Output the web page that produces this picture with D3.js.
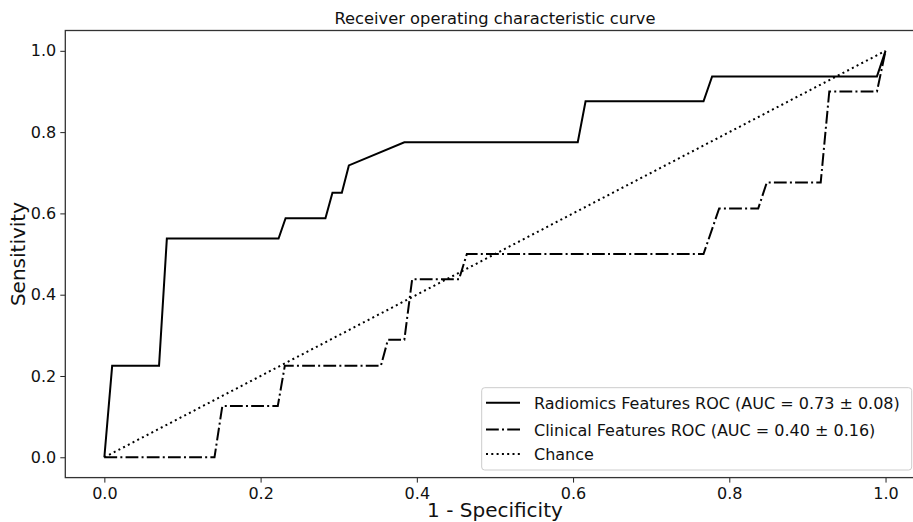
<!DOCTYPE html>
<html>
<head>
<meta charset="utf-8">
<script src="https://cdn.jsdelivr.net/npm/d3@7"></script>
<style>
  body { margin: 0; background: #fff; }
  svg { display: block; font-family: "DejaVu Sans", sans-serif; }
</style>
</head>
<body>
<div id="chart"></div>
<script>
// ROC curves
var radiomicsFpr = [0, 0.010, 0.070, 0.080, 0.223, 0.232, 0.283, 0.292, 0.304, 0.313, 0.384, 0.606, 0.616, 0.767, 0.778, 0.989, 1.0];
var radiomicsTpr = [0, 0.225, 0.225, 0.538, 0.538, 0.588, 0.588, 0.651, 0.651, 0.718, 0.775, 0.775, 0.876, 0.876, 0.937, 0.937, 1.0];

var clinicalFpr = [0, 0.141, 0.151, 0.222, 0.231, 0.354, 0.363, 0.384, 0.394, 0.454, 0.464, 0.767, 0.787, 0.837, 0.848, 0.917, 0.928, 0.989, 1.0];
var clinicalTpr = [0, 0, 0.126, 0.126, 0.225, 0.225, 0.289, 0.289, 0.438, 0.438, 0.500, 0.500, 0.612, 0.612, 0.676, 0.676, 0.900, 0.900, 1.0];

var chanceFpr = [0, 1];
var chanceTpr = [0, 1];

var tickValues = [0, 0.2, 0.4, 0.6, 0.8, 1.0];
var legendLabels = [
  "Radiomics Features ROC (AUC = 0.73 \u00b1 0.08)",
  "Clinical Features ROC (AUC = 0.40 \u00b1 0.16)",
  "Chance"
];

var svgWidth = 913;
var svgHeight = 522;

var margin = { top: 30.5, right: -11.6, bottom: 44.4, left: 65.3 };
var width = svgWidth - margin.left - margin.right;
var height = svgHeight - margin.top - margin.bottom;

var svg = d3.select("#chart")
  .append("svg")
  .attr("width", svgWidth)
  .attr("height", svgHeight);

var chartGroup = svg.append("g")
  .attr("transform", `translate(${margin.left}, ${margin.top})`);

var xScale = d3.scaleLinear().domain([-0.05, 1.05]).range([0, width]);
var yScale = d3.scaleLinear().domain([-0.05, 1.05]).range([height, 0]);

// axes
var bottomAxis = d3.axisBottom(xScale).tickValues(tickValues).tickFormat(d3.format(".1f")).tickSize(5).tickPadding(5);
var leftAxis = d3.axisLeft(yScale).tickValues(tickValues).tickFormat(d3.format(".1f")).tickSize(5).tickPadding(4);

var xAxis = chartGroup.append("g")
  .attr("transform", `translate(0, ${height})`)
  .call(bottomAxis);
var yAxis = chartGroup.append("g").call(leftAxis);

[xAxis, yAxis].forEach(function(ax) {
  ax.select(".domain").remove();
  ax.selectAll("line").attr("stroke", "#222").attr("stroke-width", 1);
  ax.selectAll("text").attr("font-size", "16px").attr("fill", "#111")
    .attr("font-family", "DejaVu Sans, sans-serif");
});

// frame
chartGroup.append("rect")
  .attr("x", 0).attr("y", 0)
  .attr("width", width).attr("height", height)
  .attr("fill", "none")
  .attr("stroke", "#333")
  .attr("stroke-width", 1.3);

// curves
function pts(xs, ys) {
  return xs.map(function(x, i) { return [x, ys[i]]; });
}
var line = d3.line().x(d => xScale(d[0])).y(d => yScale(d[1]));

var series = [
  { data: pts(radiomicsFpr, radiomicsTpr), dash: null },
  { data: pts(clinicalFpr, clinicalTpr), dash: "12.8,3.2,2,3.2" },
  { data: pts(chanceFpr, chanceTpr), dash: "2,3.3" }
];

chartGroup.selectAll("path.curve")
  .data(series)
  .enter()
  .append("path")
  .attr("class", "curve")
  .attr("d", d => line(d.data))
  .attr("fill", "none")
  .attr("stroke", "#000")
  .attr("stroke-width", 2)
  .attr("stroke-dasharray", d => d.dash);

// title and labels
svg.append("text")
  .attr("x", margin.left + width / 2)
  .attr("y", 24)
  .attr("text-anchor", "middle")
  .attr("font-size", "16.3px")
  .attr("fill", "#111")
  .text("Receiver operating characteristic curve");

svg.append("text")
  .attr("x", margin.left + width / 2)
  .attr("y", 517)
  .attr("text-anchor", "middle")
  .attr("font-size", "20px")
  .attr("fill", "#111")
  .text("1 - Specificity");

svg.append("text")
  .attr("transform", "rotate(-90)")
  .attr("x", -(margin.top + height / 2))
  .attr("y", 25)
  .attr("text-anchor", "middle")
  .attr("font-size", "20px")
  .attr("fill", "#111")
  .text("Sensitivity");

// legend
var legend = svg.append("g");
legend.append("rect")
  .attr("x", 481.7).attr("y", 387.7)
  .attr("width", 430).attr("height", 82.3)
  .attr("rx", 3).attr("ry", 3)
  .attr("fill", "#fff").attr("fill-opacity", 0.8)
  .attr("stroke", "#ccc").attr("stroke-width", 1);

var rowY = [402.7, 429.5, 454];
series.forEach(function(s, i) {
  legend.append("line")
    .attr("x1", 486).attr("x2", 520)
    .attr("y1", rowY[i]).attr("y2", rowY[i])
    .attr("stroke", "#000").attr("stroke-width", 2)
    .attr("stroke-dasharray", s.dash);
  legend.append("text")
    .attr("x", 534)
    .attr("y", rowY[i] + 6)
    .attr("font-size", "16px")
    .attr("fill", "#111")
    .text(legendLabels[i]);
});
</script>
</body>
</html>
